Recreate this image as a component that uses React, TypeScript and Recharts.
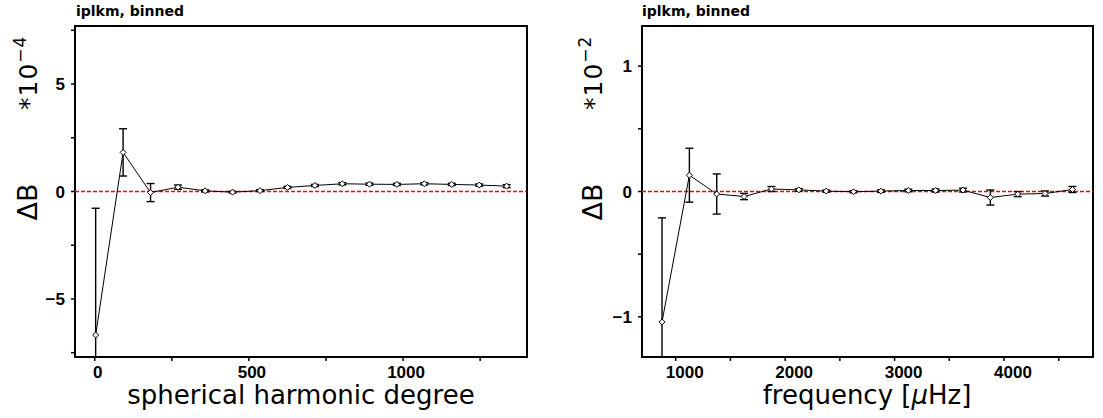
import { LineChart, Line, XAxis, YAxis, ErrorBar, ReferenceLine, ReferenceArea } from 'recharts';

// left panel: binned by spherical harmonic degree (values in units of 1e-4)
const degree = [3, 92, 181, 270, 358, 447, 536, 625, 714, 803, 891, 980, 1069, 1158, 1247, 1336];
const dbDegree = [-6.68, 1.82, -0.05, 0.2, 0.03, -0.03, 0.04, 0.19, 0.28, 0.36, 0.34, 0.33, 0.36, 0.33, 0.3, 0.25];
const errDegree = [5.9, 1.1, 0.42, 0.1, 0.05, 0.04, 0.04, 0.05, 0.05, 0.05, 0.05, 0.05, 0.05, 0.05, 0.05, 0.07];

// right panel: binned by frequency (values in units of 1e-2)
const freq = [875, 1125, 1375, 1625, 1875, 2125, 2375, 2625, 2875, 3125, 3375, 3625, 3875, 4125, 4375, 4625];
const dbFreq = [-1.04, 0.13, -0.02, -0.04, 0.02, 0.013, 0.003, -0.002, 0.003, 0.008, 0.008, 0.011, -0.048, -0.021, -0.016, 0.016];
const errFreq = [0.83, 0.215, 0.16, 0.025, 0.02, 0.01, 0.008, 0.008, 0.01, 0.01, 0.012, 0.015, 0.06, 0.02, 0.02, 0.024];

const degreeTicks = [0, 250, 500, 750, 1000, 1250];
const degreeLabels = [0, 500, 1000];
const degreeYTicks = [-7.5, -5, -2.5, 0, 2.5, 5, 7.5];
const degreeYLabels = [-5, 0, 5];

const freqTicks = [1000, 1500, 2000, 2500, 3000, 3500, 4000, 4500];
const freqLabels = [1000, 2000, 3000, 4000];
const freqYTicks = [-1, -0.5, 0, 0.5, 1];
const freqYLabels = [-1, 0, 1];

const TICK_FONT = '"Liberation Sans", Arial, sans-serif';
const LABEL_FONT = '"DejaVu Sans", sans-serif';

// plot boxes (chart-local), used only to clip the error bars at the frame
const PLOT_H = 331;
const CHART_W = 550;
const CHART_H = 418;

const fmt = (v: number) => (v < 0 ? '\u2212' + Math.abs(v) : String(v));

function Diamond(props: any) {
  const { cx, cy } = props;
  if (cx == null || cy == null) return null;
  const r = 3;
  return (
    <path
      d={`M${cx},${cy - r}L${cx + r},${cy}L${cx},${cy + r}L${cx - r},${cy}Z`}
      fill="#fff"
      stroke="#000"
      strokeWidth={1}
    />
  );
}

function XTick(props: any) {
  const { x, y, payload, labels, dx } = props;
  if (!labels.includes(payload.value)) return null;
  return (
    <text x={x + dx} y={y + 12} textAnchor="middle" fill="#000" fontSize={17} fontWeight="bold" fontFamily={TICK_FONT}>
      {fmt(payload.value)}
    </text>
  );
}

function ZeroLine(props: any) {
  const { x1, y1, x2, y2 } = props;
  return <line x1={x1} y1={y1} x2={x2} y2={y2} stroke="#ff0000" strokeWidth={1.3} strokeDasharray="4 2" />;
}

interface PanelProps {
  id: string;
  rows: { x: number; v: number; err: number }[];
  xDomain: [number, number];
  yDomain: [number, number];
  xTicks: number[];
  xLabels: number[];
  yTicks: number[];
  yLabels: number[];
  margin: { top: number; right: number; bottom: number; left: number };
  labelDx: number;
}

function Panel({ id, rows, xDomain, yDomain, xTicks, xLabels, yTicks, yLabels, margin, labelDx }: PanelProps) {
  const plotX = margin.left + 40;
  const plotW = CHART_W - margin.right - plotX;
  return (
    <div className={id} style={{ position: 'relative', width: CHART_W, height: CHART_H }}>
      <svg width={0} height={0} style={{ position: 'absolute' }}>
        <defs>
          <clipPath id={`clip-${id}`} clipPathUnits="userSpaceOnUse">
            <rect x={plotX} y={margin.top} width={plotW} height={PLOT_H} />
          </clipPath>
        </defs>
      </svg>
      <style>{`.${id} .recharts-errorBars { clip-path: url(#clip-${id}); }`}</style>
      <LineChart width={CHART_W} height={CHART_H} data={rows} margin={margin}>
        <XAxis
          type="number"
          dataKey="x"
          domain={xDomain}
          allowDataOverflow
          ticks={xTicks}
          interval={0}
          height={30}
          axisLine={false}
          tickSize={4}
          tickMargin={5}
          tickLine={{ stroke: '#000', strokeWidth: 1.5 }}
          tick={<XTick labels={xLabels} dx={labelDx} />}
        />
        <YAxis
          type="number"
          domain={yDomain}
          allowDataOverflow
          ticks={yTicks}
          interval={0}
          width={40}
          axisLine={false}
          tickSize={4}
          tickMargin={6}
          tickLine={{ stroke: '#000', strokeWidth: 1.5 }}
          tickFormatter={(v: number) => (yLabels.includes(v) ? fmt(v) : '')}
          tick={{ fill: '#000', fontSize: 17, fontWeight: 'bold', fontFamily: TICK_FONT }}
        />
        <ReferenceLine y={0} stroke="#ff0000" shape={<ZeroLine />} />
        <Line
          type="linear"
          dataKey="v"
          stroke="#000"
          strokeWidth={1}
          dot={<Diamond />}
          activeDot={false}
          isAnimationActive={false}
        >
          <ErrorBar dataKey="err" width={4} stroke="#000" strokeWidth={1.4} direction="y" />
        </Line>
        <ReferenceArea
          x1={xDomain[0]}
          x2={xDomain[1]}
          y1={yDomain[0]}
          y2={yDomain[1]}
          fill="none"
          stroke="#000"
          strokeWidth={2}
          ifOverflow="visible"
        />
      </LineChart>
    </div>
  );
}

function YTitle({ x, unit }: { x: number; unit: string }) {
  return (
    <g fontFamily={LABEL_FONT} fill="#000">
      <text transform={`translate(${x},202) rotate(-90)`} textAnchor="middle" fontSize={27}>
        ΔB
      </text>
      <text transform={`translate(${x},110) rotate(-90)`} textAnchor="start" fontSize={25} letterSpacing={1}>
        *10
        <tspan dy={-11} fontSize={17}>
          {unit}
        </tspan>
      </text>
    </g>
  );
}

export default function App() {
  const degreeRows = degree.map((x, i) => ({ x, v: dbDegree[i], err: errDegree[i] }));
  const freqRows = freq.map((x, i) => ({ x, v: dbFreq[i], err: errFreq[i] }));

  return (
    <div style={{ position: 'absolute', left: 0, top: 0, width: 1103, height: 418, background: '#fff' }}>
      <div style={{ position: 'absolute', left: 0, top: 0 }}>
        <Panel
          id="pl"
          rows={degreeRows}
          xDomain={[-64, 1402]}
          yDomain={[-7.7, 7.7]}
          xTicks={degreeTicks}
          xLabels={degreeLabels}
          yTicks={degreeYTicks}
          yLabels={degreeYLabels}
          margin={{ top: 26, right: 23, bottom: 31, left: 35 }}
          labelDx={3}
        />
      </div>
      <div style={{ position: 'absolute', left: 553, top: 0 }}>
        <Panel
          id="pr"
          rows={freqRows}
          xDomain={[692, 4813]}
          yDomain={[-1.32, 1.32]}
          xTicks={freqTicks}
          xLabels={freqLabels}
          yTicks={freqYTicks}
          yLabels={freqYLabels}
          margin={{ top: 26, right: 10, bottom: 31, left: 49 }}
          labelDx={9}
        />
      </div>
      <svg
        width={1103}
        height={418}
        style={{ position: 'absolute', left: 0, top: 0, pointerEvents: 'none' }}
      >
        <g fontFamily={LABEL_FONT} fontWeight="bold" fontSize={14} fill="#000">
          <text x={76} y={16}>iplkm, binned</text>
          <text x={642} y={16}>iplkm, binned</text>
        </g>
        <YTitle x={37} unit="−4" />
        <YTitle x={602} unit="−2" />
        <g fontFamily={LABEL_FONT} fontSize={26} fill="#000" textAnchor="middle">
          <text x={301} y={404}>spherical harmonic degree</text>
          <text x={867} y={404}>
            frequency [<tspan fontStyle="italic">μ</tspan>Hz]
          </text>
        </g>
      </svg>
    </div>
  );
}
